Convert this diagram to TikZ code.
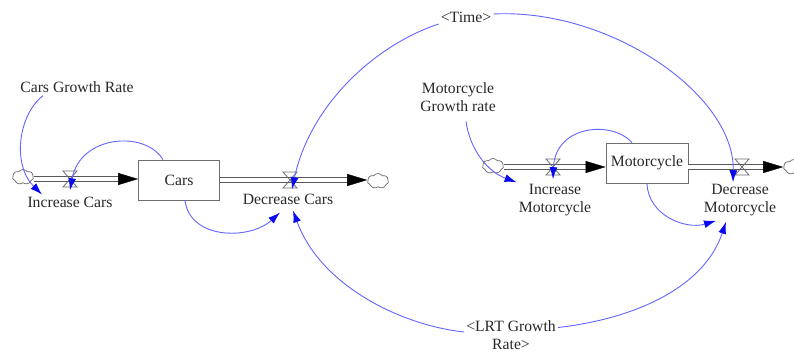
\documentclass[tikz,border=0pt]{standalone}
\usepackage{fontspec}
\setmainfont{Liberation Serif}
\usetikzlibrary{arrows.meta,shapes.symbols,calc}

\definecolor{txt}{RGB}{40,40,40}
\definecolor{boxgray}{RGB}{110,110,110}
\definecolor{linkblue}{RGB}{100,100,255}
\definecolor{tipblue}{RGB}{10,10,240}

\tikzset{
  lbl/.style={text=txt, font=\fontsize{15.7}{17.5}\selectfont, inner sep=2pt, align=center},
  stock/.style={lbl, draw=boxgray, line width=0.8pt, fill=white, minimum width=81pt, minimum height=40pt},
  valvept/.style={inner sep=0pt, minimum width=14pt, minimum height=16pt},
  valveline/.style={draw=gray!85!black, line width=0.8pt},
  sky/.style={cloud, cloud puffs=7, cloud puff arc=110, aspect=1.5, draw=gray!80!black, fill=white,
    line width=0.7pt, minimum width=21pt, minimum height=15pt, inner sep=0pt},
  pipe/.style={draw=gray!70!black, line width=0.9pt, double=white, double distance=3.4pt},
  flowtip/.style={-{Triangle[length=20pt,width=12pt]}, line width=0.4pt, black},
  link/.style={draw=linkblue, line width=0.9pt, -{Latex[length=12pt,width=8pt,color=tipblue]}},
}

% hourglass valve drawn round a named valve node
\newcommand\drawvalve[1]{%
  \draw[valveline] ($(#1)+(-7,-8)$) -- ($(#1)+(7,-8)$) -- ($(#1)+(-7,8)$) -- ($(#1)+(7,8)$) -- cycle;}

\begin{document}
\begin{tikzpicture}[x=1pt,y=-1pt]
\useasboundingbox (0,0) rectangle (794,354);

% ---- Cars chain ----
\node[sky] (cloudL) at (23,177) {};
\node[stock] (cars) at (179,180) {Cars};
\node[sky] (cloudR1) at (378,181) {};
\node[valvept] (vIC) at (70,179) {};
\node[valvept] (vDC) at (290,180) {};

\draw[pipe] (cloudL.east |- vIC) -- ([xshift=-17pt]cars.west |- vIC);
\draw[flowtip] ([xshift=-20pt]cars.west |- vIC) -- (cars.west |- vIC);
\draw[pipe] (cars.east |- vDC) -- ([xshift=-17pt]cloudR1.west |- vDC);
\draw[flowtip] ([xshift=-20pt]cloudR1.west |- vDC) -- (cloudR1.west |- vDC);
\drawvalve{vIC}
\drawvalve{vDC}

\node[lbl] (lIC) at (70,202) {Increase Cars};
\node[lbl] (lDC) at (288,199) {Decrease Cars};
\node[lbl] (cgr) at (77,87) {Cars Growth Rate};

% ---- Motorcycle chain ----
\node[sky] (cloudM) at (493,166) {};
\node[stock, minimum width=82pt] (moto) at (647,163) {Motorcycle};
\node[sky] (cloudR2) at (794,167) {};
\node[valvept] (vIM) at (553,167) {};
\node[valvept] (vDM) at (742,167) {};

\draw[pipe] (cloudM.east |- vIM) -- ([xshift=-17pt]moto.west |- vIM);
\draw[flowtip] ([xshift=-20pt]moto.west |- vIM) -- (moto.west |- vIM);
\draw[pipe] (moto.east |- vDM) -- ([xshift=-17pt]cloudR2.west |- vDM);
\draw[flowtip] ([xshift=-20pt]cloudR2.west |- vDM) -- (cloudR2.west |- vDM);
\drawvalve{vIM}
\drawvalve{vDM}

\node[lbl] (lIM) at (555,200) {Increase\\Motorcycle};
\node[lbl] (lDM) at (740,200) {Decrease\\Motorcycle};
\node[lbl] (mgr) at (458,97) {Motorcycle\\Growth rate};

% ---- shared variables ----
\node[lbl] (time) at (466,17) {<Time>};
\node[lbl] (lrt) at (511,335) {<LRT Growth\\Rate>};

% ---- information links ----
\draw[link] ([xshift=-34pt,yshift=-1pt]cgr.south) .. controls (18,115) and (12,165) .. ([xshift=-28pt]lIC.north);
\draw[link] ([xshift=-16pt]cars.north) .. controls (145,130) and (80,135) .. ([yshift=-3pt]vIC.south);
\draw[link] ([xshift=6pt]cars.south) .. controls (190,240) and (250,240) .. ([xshift=-8pt,yshift=-6pt]lDC.south);
\draw[link] ([yshift=-7pt]time.west) .. controls (375,45) and (310,105) .. ([xshift=2pt,yshift=-1pt]vDC.south);
\draw[link] ([yshift=3pt]time.east) .. controls (610,8) and (735,95) .. ([xshift=-9pt,yshift=-7pt]vDM.south);
\draw[link] ([xshift=8pt,yshift=-8pt]mgr.south) .. controls (470,150) and (488,172) .. (lIM.north west);
\draw[link] ([xshift=-15pt]moto.north) .. controls (612,120) and (555,125) .. ([yshift=-4pt]vIM.south);
\draw[link] (moto.south) .. controls (648,215) and (685,230) .. ([xshift=-24pt,yshift=-3pt]lDM.south);
\draw[link] ([yshift=3pt]lrt.west) .. controls (400,325) and (320,285) .. ([xshift=5pt,yshift=-4pt]lDC.south);
\draw[link] ([yshift=-9pt]lrt.north east) .. controls (640,318) and (705,285) .. ([xshift=-14pt,yshift=-4pt]lDM.south);
\end{tikzpicture}
\end{document}
